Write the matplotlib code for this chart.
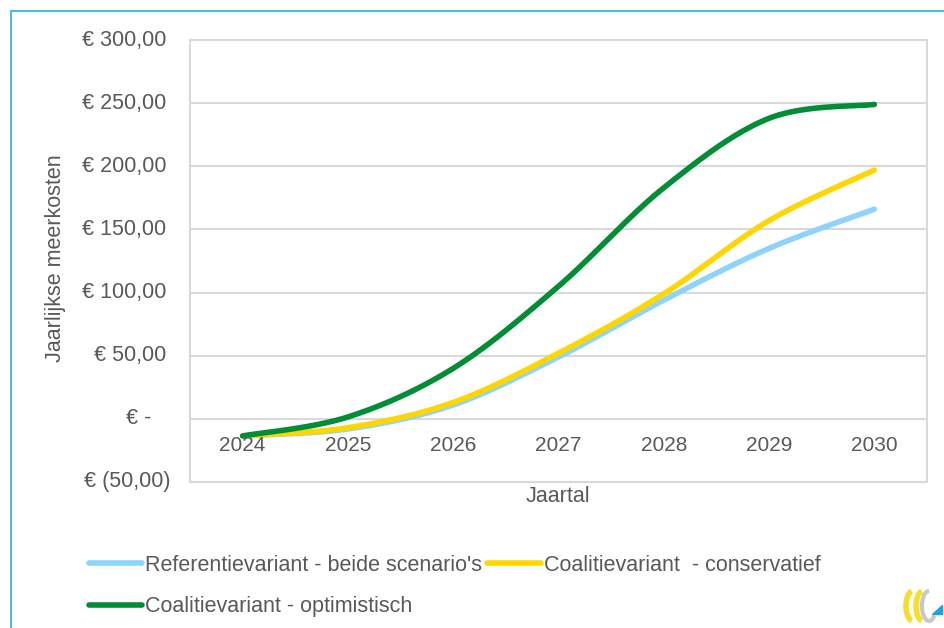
import numpy as np
import matplotlib.pyplot as plt
from matplotlib.patches import Rectangle, Polygon, Arc
from matplotlib.transforms import blended_transform_factory

plt.rcParams["font.family"] = ["Liberation Sans", "DejaVu Sans"]

# Data
years = ["2024", "2025", "2026", "2027", "2028", "2029", "2030"]
referentie = [-13.5, -8, 11, 49, 94, 135, 166]
conservatief = [-13.5, -7, 13, 52, 99, 157, 197]
optimistisch = [-13.5, 1.5, 40, 105, 183, 238, 249]

y_ticks = [-50, 0, 50, 100, 150, 200, 250, 300]
y_ticklabels = ["€ (50,00)", "€ -", "€ 50,00", "€ 100,00", "€ 150,00",
                "€ 200,00", "€ 250,00", "€ 300,00"]

TEXT = "#595959"
GRID = "#d9d9d9"


def excel_smooth(xs, ys, n=40):
    # Bezier smoothing like the "smoothed line" option in Excel
    xs = np.asarray(xs, float)
    ys = np.asarray(ys, float)
    px = np.concatenate([[xs[0]], xs, [xs[-1]]])
    py = np.concatenate([[ys[0]], ys, [ys[-1]]])
    out_x, out_y = [], []
    t = np.linspace(0, 1, n)
    for i in range(1, len(px) - 2):
        p0 = np.array([px[i - 1], py[i - 1]])
        p1 = np.array([px[i], py[i]])
        p2 = np.array([px[i + 1], py[i + 1]])
        p3 = np.array([px[i + 2], py[i + 2]])
        c1 = p1 + (p2 - p0) / 6
        c2 = p2 - (p3 - p1) / 6
        pts = ((1 - t) ** 3)[:, None] * p1 + (3 * (1 - t) ** 2 * t)[:, None] * c1 \
            + (3 * (1 - t) * t ** 2)[:, None] * c2 + (t ** 3)[:, None] * p2
        out_x.extend(pts[:, 0])
        out_y.extend(pts[:, 1])
    return np.array(out_x), np.array(out_y)


fig = plt.figure(figsize=(9.44, 6.28), dpi=100)
ax = fig.add_axes([190 / 944, 1 - 482 / 628, 737 / 944, 442 / 628])

x = np.arange(len(years))
series = [
    ("Referentievariant - beide scenario's", referentie, "#8ed3fc"),
    ("Coalitievariant - optimistisch", optimistisch, "#008d36"),
    ("Coalitievariant  - conservatief", conservatief, "#ffd600"),
]
lines = {}
for label, vals, col in [series[0], series[2], series[1]]:
    sx, sy = excel_smooth(x, vals)
    (ln,) = ax.plot(sx, sy, color=col, lw=4, solid_capstyle="round", label=label)
    lines[label] = ln

ax.set_xlim(-0.5, len(years) - 0.5)
ax.set_ylim(-50, 300)
ax.set_yticks(y_ticks)
ax.yaxis.grid(True, color=GRID, lw=1.5)
ax.set_axisbelow(True)
ax.tick_params(left=False, bottom=False, labelleft=False, labelbottom=False)
for sp in ax.spines.values():
    sp.set_color(GRID)
    sp.set_linewidth(1.5)

# y tick labels, accounting style
tr = blended_transform_factory(fig.transFigure, ax.transData)
for v, lab in zip(y_ticks, y_ticklabels):
    xr = 166 / 944
    if lab == "€ -":
        xr = 151 / 944
    elif lab.startswith("€ ("):
        xr = 171 / 944
    ax.text(xr, v, lab, transform=tr, ha="right", va="center", fontsize=15.5, color=TEXT)

# category labels sit under the zero line
for i, yr in enumerate(years):
    ax.annotate(yr, (i, 0), xytext=(0, -12), textcoords="offset points",
                ha="center", va="top", fontsize=15, color=TEXT)

fig.text(55 / 944, 1 - 258 / 628, "Jaarlijkse meerkosten", rotation=90,
         ha="center", va="center", fontsize=15.5, color=TEXT)
fig.text(558 / 944, 1 - 497 / 628, "Jaartal", ha="center", va="center",
         fontsize=15.5, color=TEXT)

handles = [lines[series[0][0]], lines[series[1][0]], lines[series[2][0]]]
fig.legend(handles, [h.get_label() for h in handles], ncol=2, frameon=False,
           loc="upper left", bbox_to_anchor=(80 / 944, 1 - 546 / 628),
           fontsize=15.5, handlelength=2.5, handletextpad=0.12, columnspacing=0.25,
           labelspacing=0.95, labelcolor=TEXT, borderaxespad=0)

# figure border (light blue, cut off right and bottom)
fig.patches.append(Rectangle((11 / 944, -0.05), 1.0, 1 - 11 / 628 + 0.05,
                             transform=fig.transFigure, fill=False,
                             edgecolor="#29abe2", lw=1.2))

# small logo bottom right
lax = fig.add_axes([896 / 944, 0, 48 / 944, 48 / 628])
lax.set_xlim(0, 48)
lax.set_ylim(0, 48)
lax.axis("off")
lax.add_patch(Arc((17, 22), 14, 30, theta1=95, theta2=265, color="#f5de2c", lw=4))
lax.add_patch(Arc((27, 22), 14, 30, theta1=95, theta2=265, color="#f5de2c", lw=4))
lax.add_patch(Arc((33, 22), 14, 30, theta1=90, theta2=300, color="#c8c8c8", lw=3))
lax.add_patch(Polygon([[36, 14], [46, 14], [46, 23]], color="#1ea0e0"))

fig.savefig("out.png", dpi=100)
